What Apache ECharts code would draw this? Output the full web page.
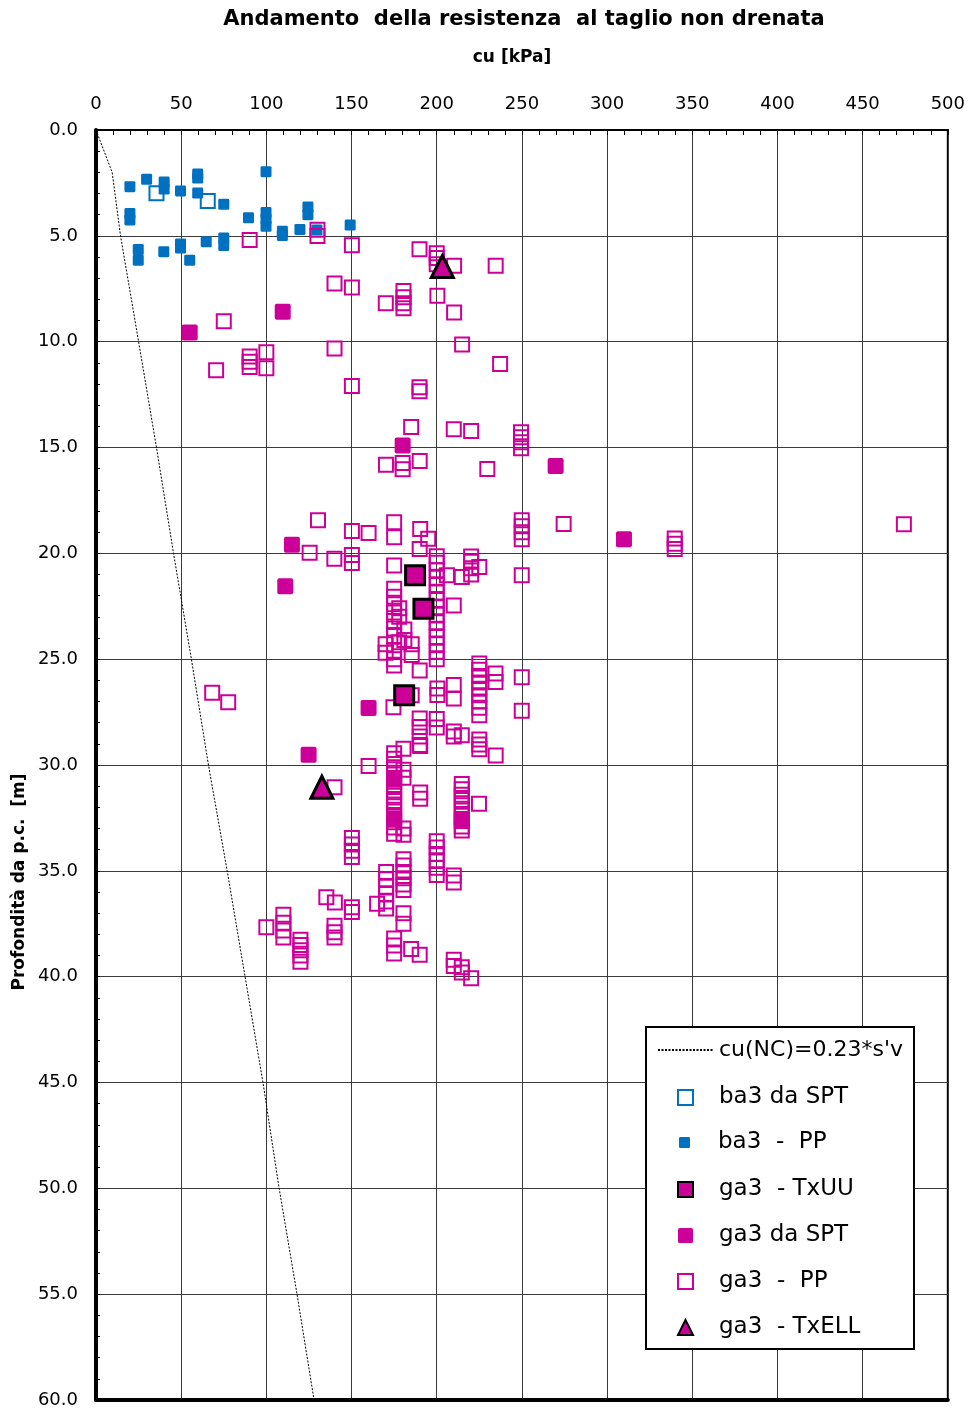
<!DOCTYPE html>
<html><head><meta charset="utf-8">
<script src="https://cdn.jsdelivr.net/npm/echarts@6/dist/echarts.min.js"></script>
<style>html,body{margin:0;padding:0;background:#fff}#c{width:968px;height:1409px}</style>
</head><body><div id="c"></div>
<script>
// ---- DATA (cu [kPa], depth [m]) ----
const xTickLabels = ['0','50','100','150','200','250','300','350','400','450','500'];
const yTickLabels = ['0.0','5.0','10.0','15.0','20.0','25.0','30.0','35.0','40.0','45.0','50.0','55.0','60.0'];

const cuNC = [[0,0],[9.5,2],[14.4,5],[25,10],[35.5,15],[45.5,20],[56,25],[66,30],[77,35],[87.5,40],[98,45],[107.5,50],[118,55],[128,60]];

const ba3SPT = [[35.5,2.99],[65.6,3.36]];

const ba3PP = [[19.9,2.68],[19.9,3.95],[19.9,4.25],[29.7,2.33],[40,2.46],[40,2.79],[49.6,2.88],[59.7,2.08],[59.7,2.27],[59.7,2.98],[75,3.51],
  [24.8,5.65],[24.8,6.15],[39.8,5.75],[49.6,5.39],[49.6,5.58],[55,6.15],[64.7,5.28],[75,5.1],[75,5.46],[89.5,4.15],[99.8,1.97],
  [99.8,3.9],[99.8,4.2],[99.8,4.55],[109.4,4.78],[109.4,4.99],[119.7,4.7],[124.4,3.64],[124.4,4.0],[129.7,4.73],[149.2,4.49]];

const ga3PP = [
  [130,4.71],[130,5.01],[90.2,5.2],[150.2,5.44],[189.9,5.63],[200,5.82],[200,6.05],[200,6.34],[210.2,6.41],[234.6,6.41],
  [140,7.25],[150.2,7.44],[170.1,8.19],[180.5,7.61],[180.5,7.9],[180.5,8.18],[180.5,8.42],[200.4,7.83],[210.2,8.62],[75,9.03],
  [140,10.32],[214.9,10.13],[237.2,11.06],[90.2,10.7],[90.2,10.95],[90.2,11.2],[100,10.5],[100,11.25],[70.5,11.35],[150.2,12.1],
  [189.9,12.15],[189.9,12.34],
  [185,14.03],[210,14.14],[220.2,14.22],[249.5,14.28],[249.5,14.52],[249.5,14.75],[249.5,15.04],[170.2,15.81],[180,15.73],[180,16.03],
  [190,15.64],[229.7,16.02],
  [130.3,18.44],[150.2,18.94],[160,19.04],[175,18.53],[175,19.24],[190.3,18.85],[195,19.31],[190,19.8],[249.9,18.44],[249.9,18.72],
  [249.9,19.0],[249.9,19.34],[274.5,18.62],[474.2,18.63],[339.7,19.3],[339.7,19.55],[339.7,19.8],
  [125.4,19.97],[139.9,20.25],[150.2,20.08],[150.2,20.46],[175,20.57],[206,21.04],[214.7,21.12],[220.2,20.15],[220.2,20.4],[220.2,20.7],
  [220.2,21.0],[225,20.65],[249.9,21.04],
  [200,20.14],[200,20.45],[200,20.8],[200,21.15],[200,21.5],[200,21.85],[200,22.2],[200,22.55],[200,22.9],[200,23.25],[200,23.6],
  [200,23.95],[200,24.3],[200,24.65],[200,25.0],[210,22.46],
  [175,21.67],[175,22.05],[175,22.4],[178,22.6],[175,22.8],[178,23.0],[175,23.2],[175,23.55],[175,23.9],[178,24.2],[175,24.6],
  [175,25.0],[175,25.3],[181,23.6],[181,24.1],[185.3,24.3],[185.3,24.8],[190,25.53],[170,24.3],[170,24.7],
  [225,25.2],[225,25.5],[225,25.8],[225,26.1],[225,26.4],[225,26.7],[225,27.0],[225,27.3],[225,27.65],
  [234.5,25.68],[234.5,26.08],[249.9,25.85],[249.9,27.44],[210,26.22],[210,26.86],[200.4,26.38],[200.4,26.69],[185.3,26.71],[174.6,27.27],
  [190,27.8],[190,28.2],[190,28.65],[190,29.05],[200,27.83],[200,28.23],[210,28.42],[210,28.65],[214.7,28.6],[225,28.79],[225,29.03],
  [225,29.26],[234.6,29.55],[180.5,29.23],[160,30.05],[140,31.05],[68.2,26.59],[77.6,27.03],
  [175,29.45],[175,29.7],[175,29.95],[175,30.2],[175,30.45],[175,30.7],[175,30.95],[175,31.2],[175,31.45],[175,31.7],[175,31.95],
  [175,32.2],[175,32.45],[175,32.7],[175,32.95],[175,33.25],[180.5,30.23],[180.5,30.6],[190.3,29.1],[190.3,31.3],[190.3,31.6],
  [180.5,33.0],[180.5,33.3],
  [214.7,30.9],[214.7,31.15],[214.7,31.4],[214.7,31.65],[214.7,31.9],[214.7,32.15],[214.7,32.4],[214.7,32.65],[214.7,32.9],[214.7,33.1],
  [224.8,31.83],
  [150.2,33.45],[150.2,33.75],[150.2,34.05],[150.2,34.35],
  [180.5,34.45],[180.5,34.75],[180.5,35.05],[180.5,35.35],[180.5,35.65],[180.5,35.9],
  [200,33.6],[200,33.9],[200,34.2],[200,34.5],[200,34.85],[200,35.2],[210,35.22],[210,35.55],
  [170.3,35.05],[170.3,35.4],[170.3,35.75],[170.3,36.1],[170.3,36.45],[170.3,36.78],
  [180.5,37.0],[180.5,37.5],[165,36.56],[135.2,36.25],[140.2,36.5],[150.2,36.72],[150.2,36.95],
  [140,37.6],[140,37.9],[140,38.15],[100,37.67],[110,37.07],[110,37.45],[110,37.82],[110,38.15],
  [120,38.25],[120,38.5],[120,38.75],[120,39.0],[120,39.3],
  [175,38.2],[175,38.53],[175,38.9],[185,38.69],[190,38.97],
  [210,39.2],[210,39.5],[214.7,39.55],[214.7,39.8],[220.2,40.08]
];

const ga3SPT = [[55,9.57],[109.6,8.59],[180,14.9],[269.8,15.87],[115,19.59],[111.1,21.55],[160,27.31],[124.8,29.52],[309.9,19.34],
  [175,30.65],[175,32.55],[214.7,32.55]];
const ga3TxUU = [[187.3,21.04],[192.2,22.62],[180.9,26.71]];
const ga3TxELL = [[203.3,6.45],[132.6,31.05]];

const names = {
  nc: "cu(NC)=0.23*s'v",
  ba3spt: 'ba3 da SPT',
  ba3pp: 'ba3  -  PP',
  txuu: 'ga3  - TxUU',
  ga3spt: 'ga3 da SPT',
  ga3pp: 'ga3  -  PP',
  txell: 'ga3  - TxELL'
};

// ---- CHART ----
const FONT = 'DejaVu Sans';
const MAG = '#CC0099', BLUE = '#0070C0';
const SOFTSQ = 'path://M2,0H14Q16,0 16,2V14Q16,16 14,16H2Q0,16 0,14V2Q0,0 2,0Z';
const chart = echarts.init(document.getElementById('c'), null, {renderer: 'canvas'});
const legendText = {fontFamily: FONT, fontSize: 23, color: '#000'};

const option = {
  animation: false,
  backgroundColor: '#fff',
  title: [
    {text: 'Andamento  della resistenza  al taglio non drenata', left: 524, top: 9, padding: 0, textAlign: 'center',
     textStyle: {fontFamily: FONT, fontSize: 21, fontWeight: 'bold', color: '#000'}},
    {text: 'cu [kPa]', left: 512, top: 49, padding: 0, textAlign: 'center',
     textStyle: {fontFamily: FONT, fontSize: 17, fontWeight: 'bold', color: '#000'}}
  ],
  grid: {left: 96, top: 130, width: 852, height: 1270, show: true, borderColor: '#000', borderWidth: 2, containLabel: false},
  xAxis: [
    {type: 'value', position: 'top', min: 0, max: 500, interval: 50,
     axisLine: {show: true, onZero: false, lineStyle: {color: '#000', width: 2}},
     axisTick: {show: true, inside: true, length: 5, lineStyle: {color: '#000'}},
     minorTick: {show: true, splitNumber: 5, length: 5, lineStyle: {color: '#000', width: 1}},
     splitLine: {show: true, lineStyle: {color: '#3a3a3a', width: 1}},
     axisLabel: {margin: 17, fontFamily: FONT, fontSize: 18, color: '#000',
       formatter: (v) => xTickLabels[Math.round(v / 50)]}},
    {type: 'value', position: 'bottom', min: 0, max: 500, interval: 50,
     axisLine: {show: true, onZero: false, lineStyle: {color: '#000', width: 4}},
     axisTick: {show: false}, axisLabel: {show: false}, splitLine: {show: false}}
  ],
  yAxis: [
    {type: 'value', inverse: true, min: 0, max: 60, interval: 5,
     axisLine: {show: true, onZero: false, lineStyle: {color: '#000', width: 4}},
     axisTick: {show: true, inside: true, length: 4, lineStyle: {color: '#000'}},
     minorTick: {show: true, splitNumber: 5, length: 4, lineStyle: {color: '#000', width: 1}},
     splitLine: {show: true, lineStyle: {color: '#3a3a3a', width: 1}},
     axisLabel: {margin: 18, fontFamily: FONT, fontSize: 18, color: '#000',
       formatter: (v) => yTickLabels[Math.round(v / 5)]}}
  ],
  graphic: [
    {type: 'text', x: 20, y: 882, rotation: Math.PI / 2, z: 5,
     style: {text: 'Profondità da p.c.  [m]', fontFamily: FONT, fontSize: 17, fontWeight: 'bold', fill: '#000',
             align: 'center', verticalAlign: 'middle'}},
    {type: 'rect', z: 3, shape: {x: 646, y: 1027, width: 268, height: 322},
     style: {fill: '#fff', stroke: '#000', lineWidth: 2}}
  ],
  legend: [
    {data: [{name: names.nc}], orient: 'vertical', left: 657, top: 1039, padding: 0,
     itemWidth: 56, itemHeight: 10, itemStyle: {opacity: 0}, textStyle: Object.assign({}, legendText, {fontSize: 22}), selectedMode: false},
    {data: [{name: names.ba3spt, icon: 'rect'}], orient: 'vertical', left: 677, top: 1086, padding: 0,
     itemWidth: 15, itemHeight: 15, textStyle: Object.assign({padding: [0, 0, 0, 21]}, legendText), selectedMode: false},
    {data: [{name: names.ba3pp, icon: SOFTSQ}], orient: 'vertical', left: 679, top: 1131, padding: 0,
     itemWidth: 11, itemHeight: 11, textStyle: Object.assign({padding: [0, 0, 0, 23]}, legendText), selectedMode: false},
    {data: [{name: names.txuu, icon: 'rect'}, {name: names.ga3spt, icon: SOFTSQ}, {name: names.ga3pp, icon: 'rect'}, {name: names.txell, icon: 'triangle'}],
     orient: 'vertical', left: 677, top: 1178, padding: 0, itemGap: 23,
     itemWidth: 15, itemHeight: 15, textStyle: Object.assign({padding: [0, 0, 0, 21]}, legendText), selectedMode: false}
  ],
  series: [
    {name: names.nc, type: 'line', data: cuNC, symbol: 'none', silent: true, z: 2,
     lineStyle: {color: '#000', width: 1, type: [2, 1.5]}},
    {name: names.ba3spt, type: 'scatter', data: ba3SPT, symbol: 'rect', symbolSize: 14, z: 3,
     itemStyle: {color: 'transparent', borderColor: BLUE, borderWidth: 2, opacity: 1}},
    {name: names.ba3pp, type: 'scatter', data: ba3PP, symbol: SOFTSQ, symbolSize: 11, z: 3,
     itemStyle: {color: BLUE, opacity: 1}},
    {name: names.ga3pp, type: 'scatter', data: ga3PP, symbol: 'rect', symbolSize: 14, z: 3,
     itemStyle: {color: 'transparent', borderColor: MAG, borderWidth: 2, opacity: 1}},
    {name: names.ga3spt, type: 'scatter', data: ga3SPT, symbol: SOFTSQ, symbolSize: 16, z: 3,
     itemStyle: {color: MAG, opacity: 1}},
    {name: names.txuu, type: 'scatter', data: ga3TxUU, symbol: 'rect', symbolSize: 19, z: 3,
     itemStyle: {color: MAG, borderColor: '#000', borderWidth: 3, opacity: 1}},
    {name: names.txell, type: 'scatter', data: ga3TxELL, symbol: 'triangle', symbolSize: 22, z: 3,
     itemStyle: {color: MAG, borderColor: '#000', borderWidth: 3, opacity: 1}}
  ]
};
chart.setOption(option);
</script>
</body></html>
